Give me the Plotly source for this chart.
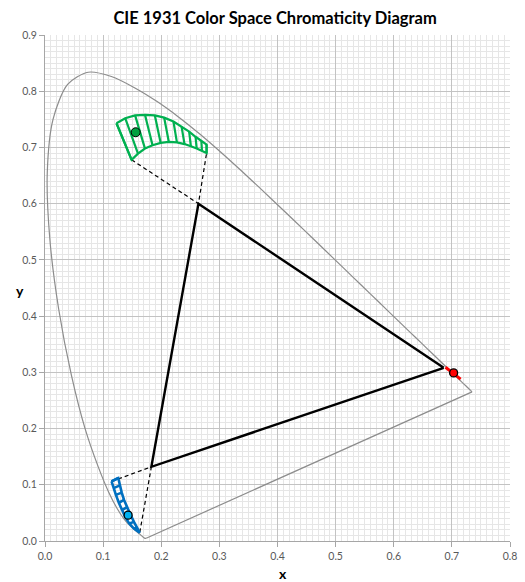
import plotly.graph_objects as go

# CIE 1931 spectral locus (chromaticity x, y), 380-700 nm
locus_x = [0.1741, 0.1740, 0.1738, 0.1736, 0.1733, 0.1730, 0.1726, 0.1721, 0.1714, 0.1703,
           0.1689, 0.1669, 0.1644, 0.1611, 0.1566, 0.1510, 0.1440, 0.1355, 0.1241, 0.1096,
           0.0913, 0.0687, 0.0454, 0.0235, 0.0082, 0.0039, 0.0139, 0.0389, 0.0743, 0.1142,
           0.1547, 0.1929, 0.2296, 0.2658, 0.3016, 0.3373, 0.3731, 0.4087, 0.4441, 0.4788,
           0.5125, 0.5448, 0.5752, 0.6029, 0.6270, 0.6482, 0.6658, 0.6801, 0.6915, 0.7006,
           0.7079, 0.7140, 0.7190, 0.7230, 0.7260, 0.7283, 0.7300, 0.7311, 0.7320, 0.7327,
           0.7334, 0.7344, 0.7347]
locus_y = [0.0050, 0.0050, 0.0049, 0.0049, 0.0048, 0.0048, 0.0048, 0.0048, 0.0051, 0.0058,
           0.0069, 0.0086, 0.0109, 0.0138, 0.0177, 0.0227, 0.0297, 0.0399, 0.0578, 0.0868,
           0.1327, 0.2007, 0.2950, 0.4127, 0.5384, 0.6548, 0.7502, 0.8120, 0.8338, 0.8262,
           0.8059, 0.7816, 0.7543, 0.7243, 0.6923, 0.6589, 0.6245, 0.5896, 0.5547, 0.5202,
           0.4866, 0.4544, 0.4242, 0.3965, 0.3725, 0.3514, 0.3340, 0.3197, 0.3083, 0.2993,
           0.2920, 0.2859, 0.2809, 0.2770, 0.2740, 0.2717, 0.2700, 0.2689, 0.2680, 0.2673,
           0.2666, 0.2656, 0.2653]

# Line of purples (closing the horseshoe)
purple_x = [0.7347, 0.1741]
purple_y = [0.2653, 0.0050]

# Gamut triangle (R, G, B, R)
tri_x = [0.686, 0.264, 0.183, 0.686]
tri_y = [0.308, 0.600, 0.132, 0.308]

# Green region: upper and lower boundary
green_top_x = [0.123, 0.138, 0.155, 0.172, 0.189, 0.205, 0.221, 0.235, 0.248, 0.259, 0.269, 0.278]
green_top_y = [0.743, 0.752, 0.757, 0.758, 0.757, 0.753, 0.746, 0.737, 0.728, 0.719, 0.711, 0.705]
green_bot_x = [0.149, 0.160, 0.172, 0.185, 0.199, 0.213, 0.227, 0.240, 0.251, 0.261, 0.270, 0.278]
green_bot_y = [0.678, 0.689, 0.698, 0.704, 0.708, 0.710, 0.709, 0.706, 0.702, 0.698, 0.694, 0.690]

# Blue region: left and right boundary
blue_left_x = [0.1145, 0.118, 0.122, 0.127, 0.132, 0.138, 0.145, 0.153, 0.163]
blue_left_y = [0.106, 0.094, 0.082, 0.068, 0.055, 0.043, 0.031, 0.022, 0.015]
blue_right_x = [0.126, 0.129, 0.132, 0.136, 0.141, 0.147, 0.153, 0.158, 0.163]
blue_right_y = [0.112, 0.099, 0.086, 0.073, 0.060, 0.047, 0.034, 0.024, 0.015]

# Red region
red_seg_x = [0.689, 0.715]
red_seg_y = [0.309, 0.288]

# Measured points
pt_green = (0.156, 0.727)
pt_blue = (0.143, 0.046)
pt_red = (0.703, 0.299)

# Dashed connectors: from triangle vertices to region corners
dash_green_x = [green_bot_x[0], tri_x[1], green_bot_x[-1]]
dash_green_y = [green_bot_y[0], tri_y[1], green_bot_y[-1]]
dash_blue_x = [blue_left_x[0], tri_x[2], blue_left_x[-1]]
dash_blue_y = [blue_left_y[0], tri_y[2], blue_left_y[-1]]

x_ticks = [0.0, 0.1, 0.2, 0.3, 0.4, 0.5, 0.6, 0.7, 0.8]
y_ticks = [0.0, 0.1, 0.2, 0.3, 0.4, 0.5, 0.6, 0.7, 0.8, 0.9]

GREEN = "#00B050"
BLUE = "#0070C0"
RED = "#FF0000"
LOCUS = "#8c8c8c"

fig = go.Figure()

fig.add_trace(go.Scatter(x=locus_x, y=locus_y, mode="lines",
                         line=dict(color=LOCUS, width=1.2, shape="spline", smoothing=0.8),
                         hoverinfo="skip"))
fig.add_trace(go.Scatter(x=purple_x, y=purple_y, mode="lines",
                         line=dict(color=LOCUS, width=1.2), hoverinfo="skip"))

# dashed connectors
fig.add_trace(go.Scatter(x=dash_green_x, y=dash_green_y, mode="lines",
                         line=dict(color="black", width=1.2, dash="4px,3px"), hoverinfo="skip"))
fig.add_trace(go.Scatter(x=dash_blue_x, y=dash_blue_y, mode="lines",
                         line=dict(color="black", width=1.2, dash="4px,3px"), hoverinfo="skip"))

# triangle
fig.add_trace(go.Scatter(x=tri_x, y=tri_y, mode="lines",
                         line=dict(color="black", width=2.4), hoverinfo="skip"))


def band(ax, ay, bx, by):
    xs, ys = [], []
    xs += ax + bx[::-1] + [ax[0], None]
    ys += ay + by[::-1] + [ay[0], None]
    for i in range(len(ax)):
        xs += [ax[i], bx[i], None]
        ys += [ay[i], by[i], None]
    return xs, ys


gx, gy = band(green_top_x, green_top_y, green_bot_x, green_bot_y)
fig.add_trace(go.Scatter(x=gx, y=gy, mode="lines", line=dict(color=GREEN, width=2.2),
                         hoverinfo="skip"))
bx, by = band(blue_left_x, blue_left_y, blue_right_x, blue_right_y)
fig.add_trace(go.Scatter(x=bx, y=by, mode="lines", line=dict(color=BLUE, width=2.6),
                         hoverinfo="skip"))
fig.add_trace(go.Scatter(x=red_seg_x, y=red_seg_y, mode="lines", line=dict(color=RED, width=3),
                         hoverinfo="skip"))

fig.add_trace(go.Scatter(x=[pt_green[0]], y=[pt_green[1]], mode="markers",
                         marker=dict(color="#00A040", size=9, line=dict(color="black", width=1))))
fig.add_trace(go.Scatter(x=[pt_blue[0]], y=[pt_blue[1]], mode="markers",
                         marker=dict(color="#00B0F0", size=8, line=dict(color="black", width=1.3))))
fig.add_trace(go.Scatter(x=[pt_red[0]], y=[pt_red[1]], mode="markers",
                         marker=dict(color=RED, size=8, line=dict(color="black", width=1.3))))

axis_common = dict(
    showgrid=True, gridcolor="#c3c3c3", gridwidth=1,
    minor=dict(dtick=0.01, showgrid=True, gridcolor="#e6e6e6", gridwidth=1),
    showline=True, linecolor="#a6a6a6", linewidth=1,
    ticks="outside", ticklen=5, tickcolor="#a6a6a6",
    tickformat=".1f", zeroline=False, automargin=False,
    tickfont=dict(family="Lato", size=10.5, color="#595959"),
)

fig.update_layout(
    width=525, height=582,
    margin=dict(l=45, r=15, t=35, b=41),
    plot_bgcolor="white", paper_bgcolor="white",
    showlegend=False,
    title=dict(text="<b>CIE 1931 Color Space Chromaticity Diagram</b>",
               x=0.524, xanchor="center", y=0.969, yanchor="middle",
               font=dict(family="Lato", size=16.5, color="black")),
    xaxis=dict(range=[0, 0.8], tickvals=x_ticks, **axis_common),
    yaxis=dict(range=[0, 0.9], tickvals=y_ticks, **axis_common),
    annotations=[
        dict(text="<b>x</b>", xref="paper", yref="paper", x=0.512, y=-0.064,
             showarrow=False, font=dict(family="Lato", size=14, color="black"),
             xanchor="center", yanchor="middle"),
        dict(text="<b>y</b>", xref="paper", yref="paper", x=-0.054, y=0.496,
             showarrow=False, font=dict(family="Lato", size=14, color="black"),
             xanchor="center", yanchor="middle"),
    ],
)

fig.write_html("out.html", config={"displayModeBar": False},
               post_script="document.body.style.margin='0px';document.body.style.padding='0px';")
